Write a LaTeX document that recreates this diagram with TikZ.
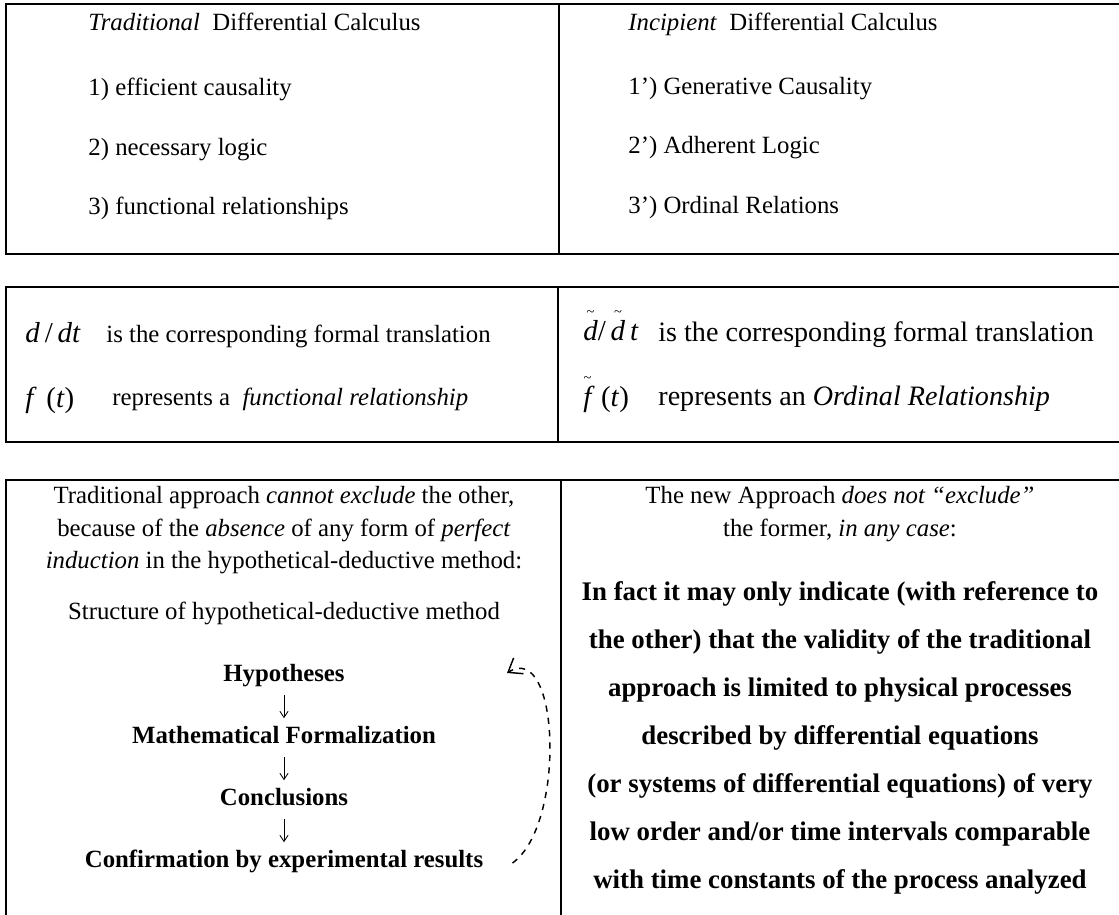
\documentclass[tikz,border=0pt]{standalone}
\usepackage{fontspec}
\setmainfont{Liberation Serif}
\usepackage{amsmath}
\usetikzlibrary{arrows.meta}

\newcommand\tld[1]{\ensuremath{\overset{\raisebox{-.7ex}{\scriptsize\textasciitilde}}{\text{\itshape #1}}}}

\begin{document}
\begin{tikzpicture}[
    x=0.484pt, y=-0.484pt,
    font=\fontsize{12}{14}\selectfont,
    txt/.style={anchor=base west, inner sep=0pt},
    txtl/.style={anchor=base west, inner sep=0pt, font=\fontsize{13.6}{16}\selectfont},
    ctr/.style={anchor=base, inner sep=0pt},
    bld/.style={anchor=base, inner sep=0pt, font=\fontsize{12}{14}\selectfont\bfseries},
    big/.style={anchor=base, inner sep=0pt, font=\fontsize{13}{15}\selectfont\bfseries},
    eqn/.style={anchor=base west, inner sep=0pt, font=\fontsize{14}{16}\selectfont},
    frame/.style={line width=1pt},
    arrow/.style={-{Straight Barb[length=3pt,width=4pt]}, thin},
    loop/.style={-{Straight Barb[length=6pt,width=9pt]}, dashed, line width=.7pt}
  ]
    \useasboundingbox (0,0) rectangle (1119,915);
    % frames
    \draw[frame] (1119,4) -- (6,4) -- (6,254) -- (1119,254);
    \draw[frame] (559,4) -- (559,254);
    \draw[frame] (1119,287) -- (6,287) -- (6,442) -- (1119,442);
    \draw[frame] (558,287) -- (558,442);
    \draw[frame] (1119,480) -- (6,480) -- (6,915);
    \draw[frame] (561,480) -- (561,915);

    % first table
    \node[txt] (tradhead) at (88,30) {\textit{Traditional}\ \ Differential Calculus};
    \node[txt] (trad1) at (88,95) {1) efficient causality};
    \node[txt] (trad2) at (88,155) {2) necessary logic};
    \node[txt] (trad3) at (88,214) {3) functional relationships};
    \node[txt] (incphead) at (628,30) {\textit{Incipient}\ \ Differential Calculus};
    \node[txt] (incp1) at (628,94) {1’) Generative Causality};
    \node[txt] (incp2) at (628,153) {2’) Adherent Logic};
    \node[txt] (incp3) at (628,213) {3’) Ordinal Relations};

    % second table
    \node[eqn] (dt) at (25,342) {\textit{d}\,/\,\textit{dt}};
    \node[txt] (dtnote) at (106,342) {is the corresponding formal translation};
    \node[eqn] (ft) at (25,407) {\textit{f}\,\,(\textit{t})};
    \node[txt] (ftnote) at (112,405) {represents a\ \ \textit{functional relationship}};
    \node[eqn] (dtt) at (583,340) {\tld{d}/\,\tld{d}\,\textit{t}};
    \node[txtl] (dttnote) at (658,341) {is the corresponding formal translation};
    \node[eqn] (ftt) at (583,406) {\tld{f}\,\,(\textit{t})};
    \node[txtl] (fttnote) at (658,405) {represents an \textit{Ordinal Relationship}};

    % third table, left
    \node[ctr] (why1) at (284,503) {Traditional approach \textit{cannot exclude} the other,};
    \node[ctr] (why2) at (284,536) {because of the \textit{absence} of any form of \textit{perfect}};
    \node[ctr] (why3) at (284,568) {\textit{induction} in the hypothetical-deductive method:};
    \node[ctr] (struct) at (284,619) {Structure of hypothetical-deductive method};
    \node[bld] (hyp) at (284,681) {Hypotheses};
    \node[bld] (form) at (284,743) {Mathematical Formalization};
    \node[bld] (concl) at (284,805) {Conclusions};
    \node[bld] (conf) at (284,867) {Confirmation by experimental results};
    \foreach \a/\b in {hyp/form, form/concl, concl/conf}
      \draw[arrow] ([yshift=-7pt]\a.base) -- ([yshift=12pt]\b.base);
    \coordinate (loopend) at (507,673);
    \draw[loop] ([xshift=14pt,yshift=-1pt]conf.east) .. controls (566,825) and (560,640) .. (loopend);

    % third table, right
    \node[ctr] (newap1) at (840,503) {The new Approach \textit{does not “exclude”}};
    \node[ctr] (newap2) at (840,536) {the former, \textit{in any case}:};
    \node[big] (fact1) at (840,600) {In fact it may only indicate (with reference to};
    \node[big] (fact2) at (840,648) {the other) that the validity of the traditional};
    \node[big] (fact3) at (840,696) {approach is limited to physical processes};
    \node[big] (fact4) at (840,744) {described by differential equations};
    \node[big] (fact5) at (840,792) {(or systems of differential equations) of very};
    \node[big] (fact6) at (840,840) {low order and/or time intervals comparable};
    \node[big] (fact7) at (840,888) {with time constants of the process analyzed};
\end{tikzpicture}
\end{document}
